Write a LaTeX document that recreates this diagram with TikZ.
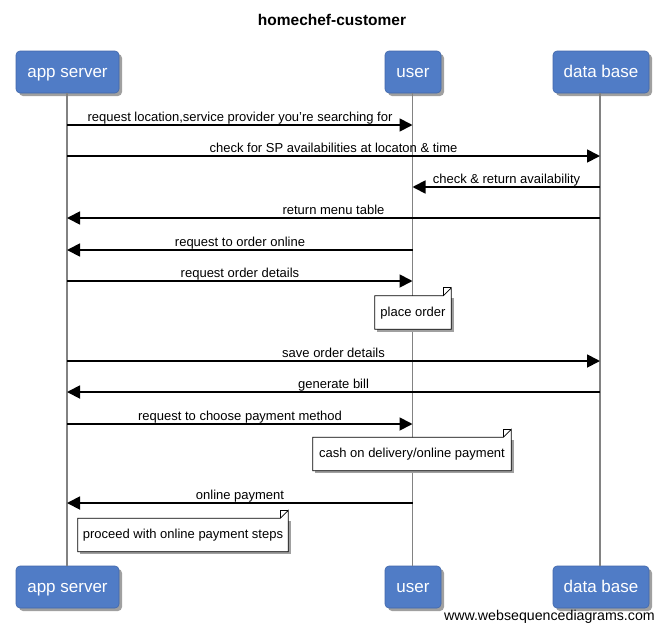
\documentclass[tikz,border=0pt]{standalone}
\usepackage{fontspec}
\setmainfont{Liberation Sans}
\usetikzlibrary{arrows.meta}
\definecolor{actorblue}{RGB}{80,124,198}
\definecolor{actoredge}{RGB}{66,104,170}
\definecolor{lifegray}{RGB}{130,130,130}
\definecolor{shadowgray}{RGB}{160,160,160}
\tikzset{
  actor/.style={rounded corners=4pt, fill=actorblue, draw=actoredge, line width=0.6pt,
    text=white, font=\fontsize{17}{19}\selectfont, minimum height=42pt, inner sep=0pt,
    text height=14pt, text depth=4pt},
  lifeline/.style={draw=lifegray, line width=1.6pt},
  msg/.style={draw=black, line width=1.8pt, -{Triangle[length=13pt,width=13pt]}},
  msglabel/.style={font=\fontsize{13}{15}\selectfont, inner sep=0pt, anchor=base},
  notebox/.style={inner sep=0pt, minimum height=33pt},
  notetext/.style={font=\fontsize{13}{15}\selectfont, inner sep=0pt, text height=10pt, text depth=3pt},
  noteline/.style={draw=black, line width=0.7pt, fill=white},
}
\newcommand{\notebox}[2]{% name, fold
  \fill[shadowgray] ([shift={(2.5,2.5)}]#1.north west) -- ([shift={(2.5,2.5)}]#1.north east) -- ([shift={(2.5,2.5)}]#1.south east) -- ([shift={(2.5,2.5)}]#1.south west) -- cycle;
  \path[noteline] (#1.north west) -- ([xshift=-#2]#1.north east) -- ([yshift=#2]#1.north east) -- (#1.south east) -- (#1.south west) -- cycle;
  \draw[line width=0.7pt] ([xshift=-#2]#1.north east) -- ([xshift=-#2,yshift=#2]#1.north east) -- ([yshift=#2]#1.north east);
}
\begin{document}
\begin{tikzpicture}[x=1pt,y=-1pt]
\useasboundingbox[fill=white] (0,0) rectangle (664,632);

\node[font=\bfseries\fontsize{15.5}{18}\selectfont] (title) at (332,20) {homechef-customer};

% shadows of actor boxes
\foreach \cx/\w in {67.5/103, 413/56, 601/96}{
  \foreach \cy in {72, 587}{
    \fill[shadowgray, rounded corners=4pt] (\cx-\w/2+3,\cy-21+3) rectangle (\cx+\w/2+3,\cy+21+3);
  }
}

\node[actor, minimum width=103pt] (asT) at (67.5,72) {app server};
\node[actor, minimum width=56pt] (uT) at (413,72) {user};
\node[actor, minimum width=96pt] (dT) at (601,72) {data base};
\node[actor, minimum width=103pt] (asB) at (67.5,587) {app server};
\node[actor, minimum width=56pt] (uB) at (413,587) {user};
\node[actor, minimum width=96pt] (dB) at (601,587) {data base};

\draw[lifeline] (asT.south -| 67,0) -- (asB.north -| 67,0);
\draw[lifeline] (uT.south -| 412.5,0) -- (uB.north -| 412.5,0);
\draw[lifeline] (dT.south -| 600,0) -- (dB.north -| 600,0);

% message endpoints
\foreach \i/\y in {1/125,2/156,3/187,4/218,5/250,6/281,8/361,9/392,10/424,12/503}{
  \coordinate (a\i) at (67,\y);
  \coordinate (u\i) at (412.5,\y);
  \coordinate (d\i) at (600,\y);
}

\draw[msg] (a1) -- (u1);
\node[msglabel] (l1) at (240,121) {request location,service provider you're searching for};
\draw[msg] (a2) -- (d2);
\node[msglabel] (l2) at (333.5,152) {check for SP availabilities at locaton \& time};
\draw[msg] (d3) -- (u3);
\node[msglabel] (l3) at (506.5,183) {check \& return availability};
\draw[msg] (d4) -- (a4);
\node[msglabel] (l4) at (333.5,214) {return menu table};
\draw[msg] (u5) -- (a5);
\node[msglabel] (l5) at (240,246) {request to order online};
\draw[msg] (a6) -- (u6);
\node[msglabel] (l6) at (240,277) {request order details};

\node[notebox, minimum width=76pt] (n1) at (413,312.5) {};
\notebox{n1}{8pt}
\node[notetext] (n1t) at (n1) {place order};

\draw[msg] (a8) -- (d8);
\node[msglabel] (l8) at (333.5,357) {save order details};
\draw[msg] (d9) -- (a9);
\node[msglabel] (l9) at (333.5,388) {generate bill};
\draw[msg] (a10) -- (u10);
\node[msglabel] (l10) at (240,420) {request to choose payment method};

\node[notebox, minimum width=198pt] (n2) at (412,454) {};
\notebox{n2}{8pt}
\node[notetext] (n2t) at (n2) {cash on delivery/online payment};

\draw[msg] (u12) -- (a12);
\node[msglabel] (l12) at (240,499) {online payment};

\node[notebox, minimum width=210pt] (n3) at (183,535) {};
\notebox{n3}{8pt}
\node[notetext] (n3t) at (n3) {proceed with online payment steps};

\node[font=\fontsize{14.2}{16}\selectfont, anchor=east, inner sep=0pt] (foot) at (655,617) {www.websequencediagrams.com};
\end{tikzpicture}
\end{document}
